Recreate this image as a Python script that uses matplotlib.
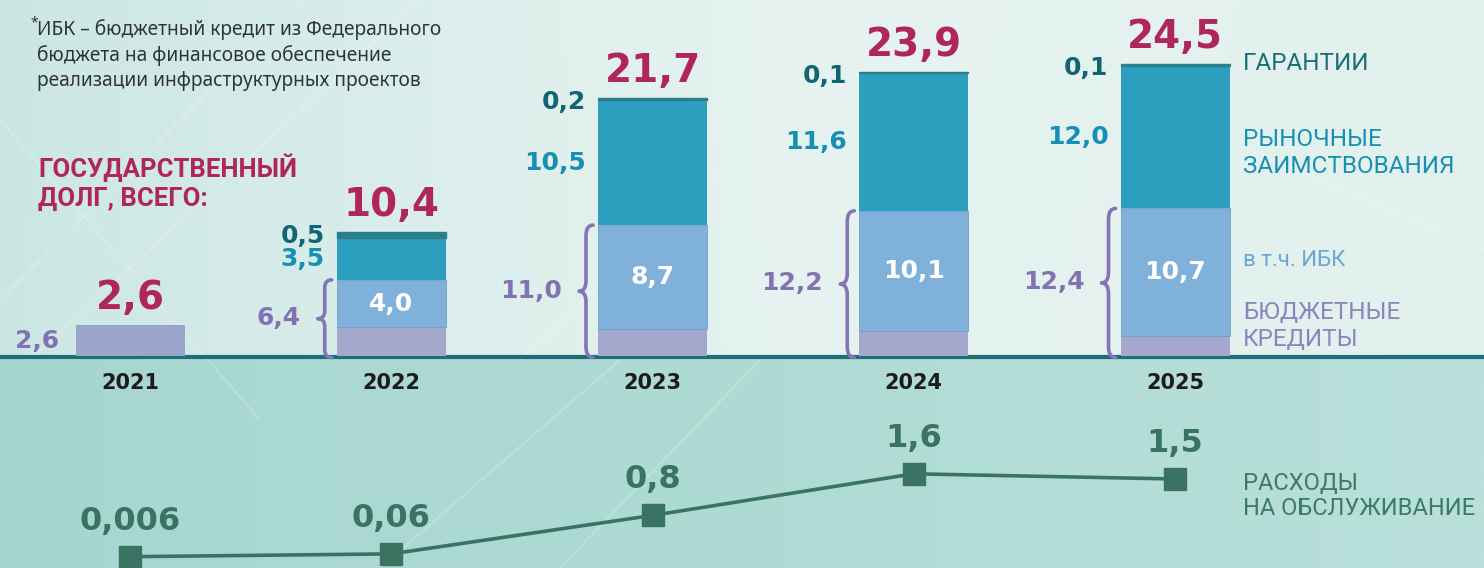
import numpy as np
import matplotlib
matplotlib.use("Agg")
import matplotlib.pyplot as plt
from matplotlib import font_manager as fm
from matplotlib.path import Path
from matplotlib.patches import PathPatch
from matplotlib.colors import to_rgb

# ---------------- data ----------------
years = ["2021", "2022", "2023", "2024", "2025"]
total_debt = [2.6, 10.4, 21.7, 23.9, 24.5]
budget_credits = [2.6, 6.4, 11.0, 12.2, 12.4]
ibk_credits = [0.0, 4.0, 8.7, 10.1, 10.7]
market_borrowing = [0.0, 3.5, 10.5, 11.6, 12.0]
guarantees = [0.0, 0.5, 0.2, 0.1, 0.1]
service_cost = [0.006, 0.06, 0.8, 1.6, 1.5]
service_labels = ["0,006", "0,06", "0,8", "1,6", "1,5"]

# ---------------- fonts ----------------
available = {f.name for f in fm.fontManager.ttflist}
def pick(*names):
    for n in names:
        if n in available:
            return n
    return "DejaVu Sans"

F_TOTAL = "DejaVu Sans"
F_NUM = "DejaVu Sans"
F_TXT = pick("Roboto", "Noto Sans", "DejaVu Sans")
F_FOOT = pick("Noto Sans", "Open Sans", "DejaVu Sans")
narrow = "Liberation Sans Narrow" in available
F_NARROW = "Liberation Sans Narrow" if narrow else F_TXT

# ---------------- colours ----------------
C_OTHER = "#a3a8cc"
C_IBK = "#80b1db"
C_MARKET = "#2c9fbf"
C_GUAR = "#2a7f8d"
C_TOTAL = "#b0255b"
C_GUAR_T = "#0f6571"
C_MARKET_T = "#1590b4"
C_BUDGET_T = "#8173b3"
C_LINE = "#3b7363"

W, H = 1484, 568
fig = plt.figure(figsize=(W / 100, H / 100), dpi=100)

def fx(x):
    return x / W
def fy(y):
    return 1 - y / H

# ---------------- background ----------------
bg = fig.add_axes([0, 0, 1, 1], zorder=0)
bg.set_xlim(0, W)
bg.set_ylim(H, 0)
bg.axis("off")
SEP = 357

def grad(c_left, c_right, c_mid, h, w=300, gamma=0.8):
    t = np.linspace(0, 1, w) ** gamma
    l, r, m = (np.array(to_rgb(c)) for c in (c_left, c_right, c_mid))
    row = np.where(t[:, None] < 0.6,
                   l + (m - l) * (t[:, None] / 0.6),
                   m + (r - m) * ((t[:, None] - 0.6) / 0.4))
    img = np.repeat(row[None, :, :], h, axis=0)
    return img

top_img = grad("#c9e6e3", "#e3f1ee", "#e6f3f0", 40)
vt = np.linspace(0, 1, 40)[:, None, None]
top_img = top_img * (1 - 0.03 * vt) + 0.03 * vt * np.array(to_rgb("#d6ece8"))
bg.imshow(top_img, extent=(0, W, SEP, 0), aspect="auto", interpolation="bilinear")
bot_img = grad("#a6d6d1", "#b9e0da", "#b0dbd5", 40)
bg.imshow(bot_img, extent=(0, W, H, SEP), aspect="auto", interpolation="bilinear")
# faint decorative diagonals
for (x0, y0, x1, y1) in [(0, 300, 300, 0), (30, 360, 420, 0), (520, 360, 900, 0),
                         (880, 0, 1200, 360), (0, 120, 260, 420), (900, 0, 1484, 250),
                         (380, 568, 620, 360), (560, 568, 760, 360)]:
    bg.plot([x0, x1], [y0, y1], color="white", lw=1.6, alpha=0.18, solid_capstyle="butt")
bg.plot([0, W], [SEP, SEP], color="#1e6e78", lw=3, solid_capstyle="butt")

# ---------------- bar axes ----------------
X0, DX = 130, 261.25
PX_UNIT = 11.9
ax = fig.add_axes([0, fy(SEP - 1), 1, (SEP - 1) / H], zorder=2)
ax.set_xlim(-X0 / DX, (W - X0) / DX)
ax.set_ylim(0, (SEP - 1) / PX_UNIT)
ax.axis("off")
ax.patch.set_alpha(0)

x = np.arange(len(years))
bw = 109 / DX
other = [b - i for b, i in zip(budget_credits, ibk_credits)]
bot_ibk = other
bot_mkt = budget_credits
bot_gua = [b + m for b, m in zip(budget_credits, market_borrowing)]

def lw_for(vals, w):
    return [w if v > 0 else 0 for v in vals]

other_cols = ["#9ba5c9"] + [C_OTHER] * 4
ax.bar(x, other, bw, color=other_cols, linewidth=0)
ax.bar(x, ibk_credits, bw, bottom=bot_ibk, color=C_IBK, edgecolor="#6c9fd0",
       linewidth=lw_for(ibk_credits, 0.6))
ax.bar(x, market_borrowing, bw, bottom=bot_mkt, color=C_MARKET, linewidth=0)
ax.bar(x, guarantees, bw, bottom=bot_gua, color=C_GUAR, edgecolor=C_GUAR,
       linewidth=lw_for(guarantees, 1.0))

def fmt(v):
    return f"{v:.1f}".replace(".", ",")

for i in range(len(years)):
    left = x[i] - bw / 2
    # total
    ax.annotate(fmt(total_debt[i]), (x[i], total_debt[i]), xytext=(0, 16),
                textcoords="offset pixels", ha="center", va="baseline",
                fontsize=28, color=C_TOTAL, fontfamily=F_TOTAL, fontweight="bold")
    if i == 0:
        ax.annotate(fmt(budget_credits[i]), (left, budget_credits[i] / 2), xytext=(-16, 0),
                    textcoords="offset pixels", ha="right", va="center",
                    fontsize=18, color=C_BUDGET_T, fontfamily=F_NUM, fontweight="bold")
        continue
    ax.annotate(fmt(guarantees[i]), (left, total_debt[i]), xytext=(-12, -4),
                textcoords="offset pixels", ha="right", va="center",
                fontsize=18, color=C_GUAR_T, fontfamily=F_NUM, fontweight="bold")
    ax.annotate(fmt(market_borrowing[i]), (left, bot_mkt[i] + market_borrowing[i] / 2),
                xytext=(-12, 0), textcoords="offset pixels", ha="right", va="center",
                fontsize=18, color=C_MARKET_T, fontfamily=F_NUM, fontweight="bold")
    ax.annotate(fmt(budget_credits[i]), (left, budget_credits[i] / 2), xytext=(-36, 0),
                textcoords="offset pixels", ha="right", va="center",
                fontsize=18, color=C_BUDGET_T, fontfamily=F_NUM, fontweight="bold")
    ax.annotate(fmt(ibk_credits[i]), (x[i], bot_ibk[i] + ibk_credits[i] / 2),
                ha="center", va="center", fontsize=18, color="white",
                fontfamily=F_NUM, fontweight="bold")
    # brace
    xr = left - 5 / DX
    xl = left - 19 / DX
    xm = (xr + xl) / 2
    yb = -1.5 / PX_UNIT
    yt = budget_credits[i]
    ym = (yb + yt) / 2
    r = min(0.9, (yt - yb) * 0.1)
    verts = [(xr, yt), (xm, yt), (xm, yt - r),
             (xm, ym + r), (xm, ym), (xl, ym),
             (xm, ym), (xm, ym - r),
             (xm, yb + r), (xm, yb), (xr, yb)]
    codes = [Path.MOVETO, Path.CURVE3, Path.CURVE3,
             Path.LINETO, Path.CURVE3, Path.CURVE3,
             Path.CURVE3, Path.CURVE3,
             Path.LINETO, Path.CURVE3, Path.CURVE3]
    ax.add_patch(PathPatch(Path(verts, codes), fill=False, edgecolor="#8575b5",
                           lw=2.6, clip_on=False, capstyle="round", joinstyle="round"))

# ---------------- line axes ----------------
PX_LINE = 52
ax2 = fig.add_axes([0, 0, 1, (H - SEP - 2) / H], zorder=2)
ax2.set_xlim(-X0 / DX, (W - X0) / DX)
ax2.set_ylim(-(H - 557) / PX_LINE, (557 - SEP - 2) / PX_LINE)
ax2.axis("off")
ax2.patch.set_alpha(0)
ax2.plot(x, service_cost, color=C_LINE, lw=2.6, marker="s", markersize=16,
         markerfacecolor=C_LINE, markeredgecolor=C_LINE, zorder=3)
for i, lab in enumerate(service_labels):
    ax2.annotate(lab, (x[i], service_cost[i]), xytext=(0, 27), textcoords="offset pixels",
                 ha="center", va="baseline", fontsize=23, color=C_LINE,
                 fontfamily=F_NUM, fontweight="bold")
for i, yr in enumerate(years):
    ax2.annotate(yr, (x[i], 0), xytext=(0, 557 - 383), textcoords="offset pixels",
                 ha="center", va="center", fontsize=15, color="#1c1c1c",
                 fontfamily=F_NUM, fontweight="bold")

# ---------------- texts ----------------
fig.text(fx(1243), fy(64), "ГАРАНТИИ", ha="left", va="center", fontsize=17.5,
         color="#1b6e78", fontfamily=F_TXT)
fig.text(fx(1243), fy(153), "РЫНОЧНЫЕ\nЗАИМСТВОВАНИЯ", ha="left", va="center",
         fontsize=17.5, color="#1791b3", fontfamily=F_TXT, linespacing=1.25)
fig.text(fx(1243), fy(260), "в т.ч. ИБК", ha="left", va="center", fontsize=16,
         color="#6aa6d8", fontfamily=F_TXT)
fig.text(fx(1243), fy(326), "БЮДЖЕТНЫЕ\nКРЕДИТЫ", ha="left", va="center",
         fontsize=17.5, color="#8b85bf", fontfamily=F_TXT, linespacing=1.25)
fig.text(fx(1243), fy(496), "РАСХОДЫ\nНА ОБСЛУЖИВАНИЕ", ha="left", va="center",
         fontsize=21 if narrow else 17, color="#3e7a68", fontfamily=F_NARROW,
         linespacing=1.15)
fig.text(fx(38), fy(182), "ГОСУДАРСТВЕННЫЙ\nДОЛГ, ВСЕГО:", ha="left", va="center",
         fontsize=18.5, color=C_TOTAL, fontfamily=F_TXT, fontweight="bold", linespacing=1.25)
fig.text(fx(30), fy(23), "*", ha="left", va="center", fontsize=10, color="#2e3436",
         fontfamily=F_FOOT)
fig.text(fx(37), fy(55), "ИБК – бюджетный кредит из Федерального\nбюджета на финансовое обеспечение\n"
         "реализации инфраструктурных проектов", ha="left", va="center", fontsize=13.8,
         color="#2e3436", fontfamily=F_FOOT, linespacing=1.3)

fig.savefig("out.png", dpi=100)
